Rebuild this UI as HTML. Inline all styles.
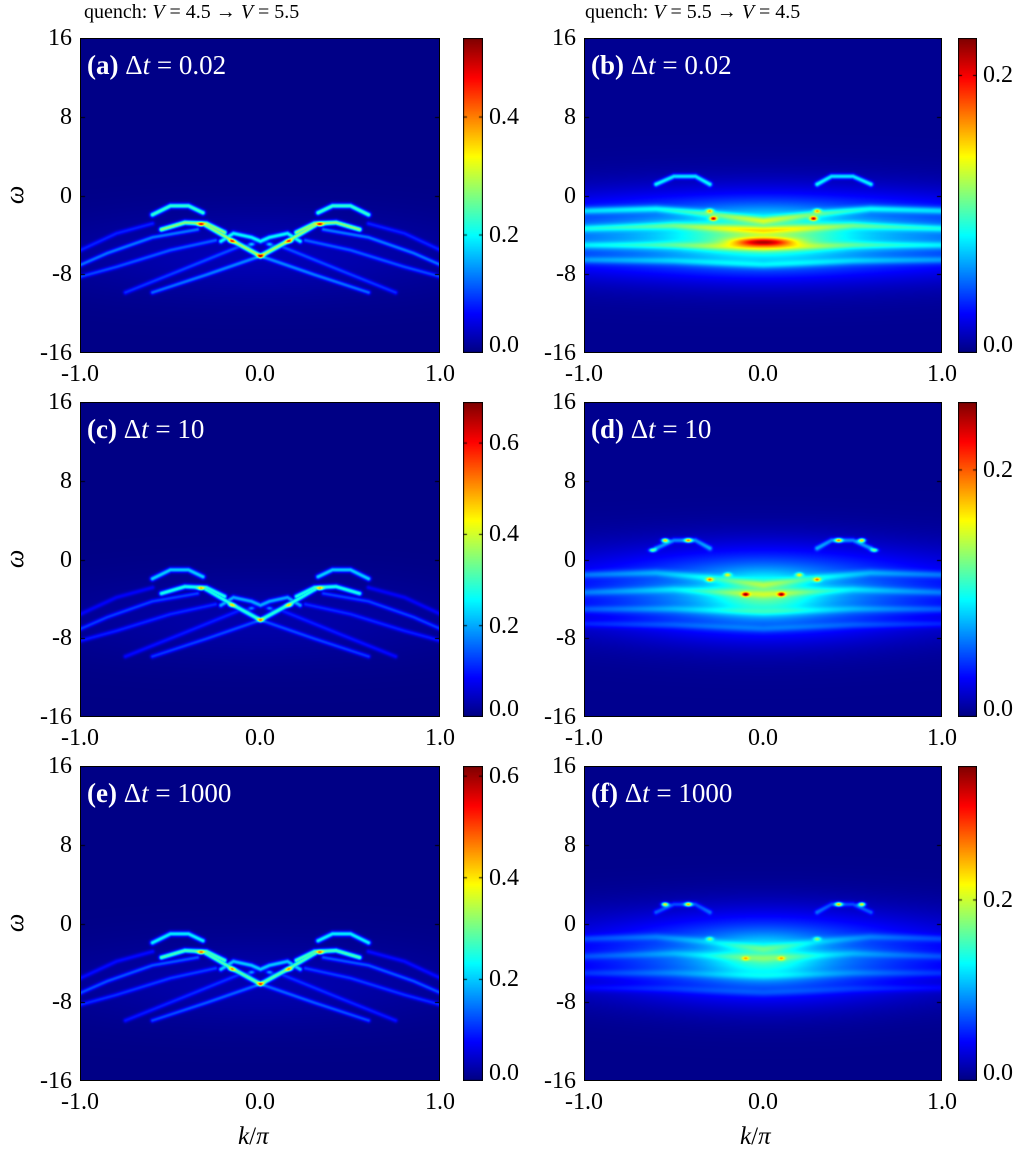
<!DOCTYPE html>
<html><head><meta charset="utf-8">
<style>
body{margin:0;background:#fff;}
#fig{position:relative;width:1025px;height:1164px;overflow:hidden;font-family:"Liberation Serif",serif;color:#000;}
.t{position:absolute;font-size:24px;white-space:nowrap;line-height:1;}
canvas{position:absolute;}
.lab{position:absolute;color:#fff;font-size:27px;white-space:nowrap;line-height:1;}
.frame{position:absolute;border:1px solid #000;box-sizing:border-box;}
</style></head><body>
<div id="fig">
<div class="t" style="left:84px;top:2px;font-size:20px">quench: <i>V</i> = 4.5 → <i>V</i> = 5.5</div>
<div class="t" style="left:585px;top:2px;font-size:20px">quench: <i>V</i> = 5.5 → <i>V</i> = 4.5</div>
</div>
<script>
// ---- data ----
const panelIds=['a','b','c','d','e','f'];
const panelDt=['0.02','0.02','10','10','1000','1000'];
const cbMax=[0.534,0.227,0.69,0.255,0.62,0.348];
const cbTicksLeft=[0.0,0.2,0.4,0.6];
const cbTicksRight=[0.0,0.2];
const yTicks=[16,8,0,-8,-16];
const xTicks=[-1.0,0.0,1.0];
// curves: half (k<0) polylines, mirrored; [amp, sigma(px), points...]
const curvesLeft=[
 [0.22,1.8,[[-0.6,-1.9],[-0.5,-1.0],[-0.4,-1.0],[-0.32,-1.7]]],
 [0.26,1.8,[[-0.55,-3.4],[-0.42,-2.7],[-0.3,-2.8],[-0.2,-3.7]]],
 [0.26,1.8,[[-0.3,-3.0],[-0.15,-4.6],[0,-6.1]]],
 [0.18,1.7,[[-0.22,-4.6],[-0.15,-3.8],[-0.05,-4.2],[0,-4.6]]],
 [0.11,1.6,[[-0.35,-3.4],[-0.6,-4.2],[-0.85,-5.8],[-1,-7]]],
 [0.09,1.6,[[-0.25,-4.5],[-0.5,-5.5],[-0.8,-7.2],[-1,-8.2]]],
 [0.11,1.6,[[0,-6.1],[-0.3,-8],[-0.6,-9.8]]],
 [0.08,1.6,[[-0.1,-5],[-0.45,-7.6],[-0.75,-9.8]]],
 [0.07,1.6,[[-0.6,-2.8],[-0.8,-3.8],[-1,-5.5]]]
];
const spotsLeft=[[-0.33,-2.9,0.25],[-0.16,-4.6,0.2],[0,-6.1,0.25],[-0.05,-4.9,0.15]];
const curvesRight=[
 [0.07,1.8,[[-0.6,1.2],[-0.5,2.0],[-0.38,2.0],[-0.3,1.2]]],
 [0.04,2.5,[[-1,-1.5],[-0.6,-1.3],[-0.3,-1.8],[0,-2.5]]],
 [0.035,2.5,[[-1,-3.3],[-0.5,-3.0],[0,-3.5]]],
 [0.03,2.5,[[-1,-5],[-0.5,-5],[0,-5.3]]],
 [0.025,2.5,[[-1,-6.5],[-0.5,-6.6],[0,-7]]]
];
const hazeRightB=[[0,-4,0.8,3.0,0.04],[0,-4,3.0,2.6,0.035],[0,-4.2,0.3,1.8,0.04],[0,-4.7,0.12,0.3,0.1]];
const spotsRightB=[[-0.28,-2.3,0.13],[-0.3,-1.5,0.08]];
const hazeRightD=[[0,-3.5,0.55,3.0,0.055],[0,-3,3.0,3.0,0.025],[0,-3.5,0.2,1.5,0.04]];
const spotsRightD=[[-0.55,2.0,0.15],[-0.42,2.0,0.13],[-0.62,1.0,0.1],[-0.3,-2.0,0.1],[-0.1,-3.5,0.12],[-0.2,-1.5,0.08]];
const hazeRightF=[[0,-3.5,0.55,3.0,0.07],[0,-3,3.0,3.0,0.03],[0,-3.5,0.2,1.5,0.05]];
const spotsRightF=[[-0.55,2.0,0.2],[-0.42,2.0,0.18],[-0.3,-1.5,0.08],[-0.1,-3.5,0.08]];
const rowsTop=[38,402,766];
const ROWH=315;
const cols=[{x:80,w:360,cb:463,cbw:20},{x:584,w:358,cb:958,cbw:19}];

function jet(v){v=Math.max(0,Math.min(1,v));
 const r=Math.min(1,Math.max(0,1.5-Math.abs(4*v-3)));
 const g=Math.min(1,Math.max(0,1.5-Math.abs(4*v-2)));
 const b=Math.min(1,Math.max(0,1.5-Math.abs(4*v-1)));
 return [r*255|0,g*255|0,b*255|0];}
const fig=document.getElementById('fig');
function mk(tag,cls,style,name,txt){const e=document.createElement(tag);if(cls)e.className=cls;e.style.cssText=style;
 
 
 if(txt!==undefined)e.innerHTML=txt;fig.appendChild(e);return e;}
function segDist(px,py,ax,ay,bx,by){const dx=bx-ax,dy=by-ay;let t=((px-ax)*dx+(py-ay)*dy)/(dx*dx+dy*dy);t=Math.max(0,Math.min(1,t));const ex=ax+t*dx-px,ey=ay+t*dy-py;return Math.sqrt(ex*ex+ey*ey);}

panelIds.forEach((id,i)=>{
 const row=Math.floor(i/2),col=i%2,C=cols[col],top=rowsTop[row];
 const X=k=>(k+1)/2*C.w, Y=w=>(16-w)/32*ROWH;
 const cv=mk('canvas','','left:'+C.x+'px;top:'+top+'px','heatmap-'+id);
 cv.width=C.w;cv.height=ROWH;
 const ctx=cv.getContext('2d');const img=ctx.createImageData(C.w,ROWH);
 let curves,spots,haze;
 if(col===0){curves=curvesLeft;spots=spotsLeft;haze=[[0,-6,0.8,3,0.025]];}
 else{curves=curvesRight.map(c=>[c[0]*(row===0?1:0.7),c[1],c[2]]);
  spots=row===0?spotsRightB:row===1?spotsRightD:spotsRightF;
  haze=row===0?hazeRightB:row===1?hazeRightD:hazeRightF;}
 const segs=[];
 curves.forEach(c=>{const p=c[2];[1,-1].forEach(s=>{for(let j=0;j<p.length-1;j++)segs.push([c[0],c[1],X(s*p[j][0]),Y(p[j][1]),X(s*p[j+1][0]),Y(p[j+1][1])]);});});
 const sp=[];spots.forEach(s=>{sp.push([X(s[0]),Y(s[1]),s[2]]);if(s[0]!==0)sp.push([X(-s[0]),Y(s[1]),s[2]]);});
 const vmax=cbMax[i];
 for(let y=0;y<ROWH;y++)for(let x=0;x<C.w;x++){
  let v=0.004;
  const k=x/C.w*2-1,w=16-y/ROWH*32;
  haze.forEach(h=>{const a=(k-h[0])/h[2],b=(w-h[1])/h[3];v+=h[4]*Math.exp(-0.5*(a*a+b*b));});
  let m=0;
  for(const s of segs){const d=segDist(x,y,s[2],s[3],s[4],s[5]);if(d<7){const q=s[0]*Math.exp(-d*d/(2*s[1]*s[1]));if(q>m)m=q;}}
  v+=m;
  for(const s of sp){const dx=x-s[0],dy=y-s[1];const d2=dx*dx/6+dy*dy/2;if(d2<20)v+=s[2]*Math.exp(-d2/2);}
  const c=jet(v/vmax);const o=(y*C.w+x)*4;
  img.data[o]=c[0];img.data[o+1]=c[1];img.data[o+2]=c[2];img.data[o+3]=255;}
 ctx.putImageData(img,0,0);
 ctx.strokeStyle='#000';ctx.lineWidth=1;
 yTicks.forEach(t=>{const yy=Math.round(Y(t))+0.5;ctx.beginPath();ctx.moveTo(0,yy);ctx.lineTo(5,yy);ctx.moveTo(C.w,yy);ctx.lineTo(C.w-5,yy);ctx.stroke();});
 mk('div','frame','left:'+C.x+'px;top:'+top+'px;width:'+C.w+'px;height:'+ROWH+'px','panel-frame-'+id);
 const cb=mk('canvas','','left:'+C.cb+'px;top:'+top+'px','colorbar-'+id);
 cb.width=C.cbw;cb.height=ROWH;const cc=cb.getContext('2d');
 for(let y=0;y<ROWH;y++){const c=jet(1-y/ROWH);cc.fillStyle='rgb('+c+')';cc.fillRect(0,y,C.cbw,1);}
 cc.strokeStyle='#000';cc.strokeRect(0.5,0.5,C.cbw-1,ROWH-1);
 const ticks=col===0?cbTicksLeft:cbTicksRight;
 ticks.forEach(t=>{if(t>vmax)return;const yy=top+ROWH-t/vmax*ROWH;
  cc.beginPath();cc.moveTo(0,yy-top);cc.lineTo(4,yy-top);cc.moveTo(C.cbw,yy-top);cc.lineTo(C.cbw-4,yy-top);cc.stroke();
  mk('div','t','left:'+(C.cb+C.cbw+6)+'px;top:'+(Math.min(yy,top+ROWH-8)-12)+'px','colorbar-tick-'+id,t.toFixed(1));});
 yTicks.forEach(t=>{const yy=top+Y(t);
  mk('div','t','left:'+(C.x-60)+'px;width:52px;text-align:right;top:'+(yy-12)+'px','y-tick-'+id,String(t));});
 xTicks.forEach(t=>{const xx=C.x+X(t);
  mk('div','t','left:'+(xx-30)+'px;width:60px;text-align:center;top:'+(top+ROWH+9)+'px','x-tick-'+id,t.toFixed(1));});
 mk('div','lab','left:'+(C.x+7)+'px;top:'+(top+14)+'px','panel-label-'+id,'<b>('+id+')</b> Δ<i>t</i> = '+panelDt[i]);
 if(col===0) mk('div','t','left:6px;top:'+(top+ROWH/2-14)+'px;font-size:26px;font-style:italic;transform:rotate(-90deg)','y-axis-title-'+row,'ω');
});
mk('div','t','left:238px;top:1124px;font-size:25px','x-axis-title-left','<i>k</i>/<i>π</i>');
mk('div','t','left:740px;top:1124px;font-size:25px','x-axis-title-right','<i>k</i>/<i>π</i>');
</script>
</body></html>
